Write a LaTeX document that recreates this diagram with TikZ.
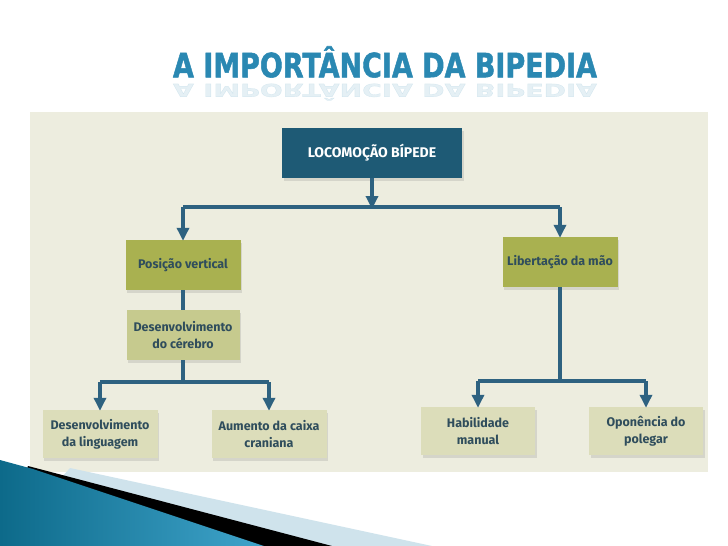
\documentclass[tikz,border=0pt]{standalone}
\usepackage{fontspec}
\setmainfont{Fira Sans}
\newfontfamily\titlefont[FakeBold=1.6]{DejaVu Sans}
\usetikzlibrary{arrows.meta,shadows}
\definecolor{panel}{HTML}{EDEDDF}
\definecolor{darkbox}{HTML}{1E5A75}
\definecolor{greenA}{HTML}{A9B150}
\definecolor{greenB}{HTML}{C6CA8E}
\definecolor{paleC}{HTML}{DCDDBA}
\definecolor{linec}{HTML}{2E6280}
\definecolor{textc}{HTML}{2F4D5C}
\definecolor{titlec}{HTML}{2A88B2}
\definecolor{decoA}{HTML}{0D6A8A}
\definecolor{decoB}{HTML}{3FA4CB}
\definecolor{decoL}{HTML}{CFE3EC}
\begin{document}
\begin{tikzpicture}[x=1pt,y=-1pt,
  box/.style={minimum width=#1, minimum height=50pt, inner sep=2pt, align=center,
    font=\fontsize{12.5}{17}\selectfont\bfseries, text=textc,
    drop shadow={opacity=0.22, shadow xshift=1.5pt, shadow yshift=-2.5pt}},
  conn/.style={draw=linec, line width=4pt},
  arr/.style={conn, -{Triangle[length=13pt,width=12pt]}, shorten >=-1pt}]
\useasboundingbox (0,0) rectangle (728,546);
\fill[white] (0,0) rectangle (728,546);
% title and reflection
\node[font=\titlefont\bfseries, text=titlec] (title) at (385,62)
  {\resizebox{424pt}{31pt}{A IMPORTÂNCIA DA BIPEDIA}};
\node[font=\titlefont\bfseries, text=titlec, opacity=0.12] (reflect) at (385,92)
  {\resizebox{424pt}{-16pt}{A IMPORTÂNCIA DA BIPEDIA}};
% panel
\fill[panel] (30,112) rectangle (708,472);
% boxes
\node[box=180pt, fill=darkbox, text=white, font=\fontsize{14}{17}\selectfont\bfseries] (top) at (372,153) {LOCOMOÇÃO BÍPEDE};
\node[box=115pt, fill=greenA] (pos) at (183,265) {Posição vertical};
\node[box=113pt, fill=greenB] (cer) at (183,335) {Desenvolvimento\\do cérebro};
\node[box=115pt, fill=greenA] (lib) at (560,262) {Libertação da mão};
\node[box=115pt, minimum height=48pt, fill=paleC] (ling) at (100,434) {Desenvolvimento\\da linguagem};
\node[box=115pt, minimum height=48pt, fill=paleC] (aum) at (269,434) {Aumento da caixa\\craniana};
\node[box=114pt, minimum height=48pt, fill=paleC] (hab) at (478,431) {Habilidade\\manual};
\node[box=114pt, minimum height=48pt, fill=paleC] (opo) at (646,431) {Oponência do\\polegar};
% junction coordinates
\coordinate (j1) at (372,207);
\coordinate (j1l) at (183,207);
\coordinate (j1r) at (560,207);
\coordinate (j2) at (183,382);
\coordinate (j2l) at (100,382);
\coordinate (j2r) at (269,382);
\coordinate (j3) at (560,381);
\coordinate (j3l) at (478,381);
\coordinate (j3r) at (646,381);
% connectors
\draw[arr, shorten >=-2pt] (top.south) -- (j1);
\draw[conn] (j1l) -- (j1r);
\draw[arr] (j1l) -- (pos.north);
\draw[arr] (j1r) -- (lib.north);
\draw[conn] (pos.south) -- (cer.north);
\draw[conn] (cer.south) -- (j2);
\draw[conn] (j2l) -- (j2r);
\draw[arr] (j2l) -- (ling.north);
\draw[arr] (j2r) -- (aum.north);
\draw[conn] (lib.south) -- (j3);
\draw[conn] (j3l) -- (j3r);
\draw[arr] (j3l) -- (hab.north);
\draw[arr] (j3r) -- (opo.north);
% bottom-left decoration
\fill[decoL] (70,468) -- (432,546) -- (0,546) -- cycle;
\fill[black] (28,466) -- (332,546) -- (0,546) -- cycle;
\shade[left color=decoA, right color=decoB] (0,460) -- (33,469) -- (264,546) -- (0,546) -- cycle;
\end{tikzpicture}
\end{document}
